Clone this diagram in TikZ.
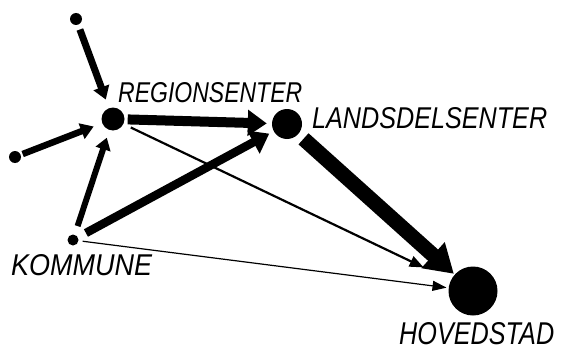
\documentclass[tikz,border=0pt]{standalone}
\usepackage{fontspec}
\setmainfont{Liberation Sans}
\usetikzlibrary{arrows.meta}
\newcommand{\lab}[3]{\resizebox{#1pt}{#2pt}{\itshape #3}}
\begin{document}
\begin{tikzpicture}[x=1pt,y=-1pt,
  dot/.style={circle,fill=black,inner sep=0pt,draw=none},
  lbl/.style={inner sep=0pt,anchor=base west},
  flow/.style={draw=black}]
\useasboundingbox (0,0) rectangle (561,350);
% places
\node[dot,minimum size=12pt] (top) at (76,19) {};
\node[dot,minimum size=12pt] (left) at (15,157) {};
\node[dot,minimum size=11pt] (kom) at (73,240) {};
\node[dot,minimum size=23pt] (reg) at (113,119) {};
\node[dot,minimum size=30pt] (lands) at (287,124) {};
\node[dot,minimum size=49pt] (hov) at (473,291) {};
% labels
\node[lbl] (lreg) at (118,102) {\lab{184}{20}{REGIONSENTER}};
\node[lbl] (llands) at (312,128) {\lab{235}{21}{LANDSDELSENTER}};
\node[lbl] (lkom) at (11,275) {\lab{141}{21}{KOMMUNE}};
\node[lbl] (lhov) at (399,344) {\lab{155}{22}{HOVEDSTAD}};
% flows
\draw[flow,line width=7pt,-{Triangle[length=13pt,width=16pt]},shorten <=5pt,shorten >=9pt] (top) -- (reg);
\draw[flow,line width=6.5pt,-{Triangle[length=13pt,width=16pt]},shorten <=2pt,shorten >=9pt] (left) -- (reg);
\draw[flow,line width=6pt,-{Triangle[length=12pt,width=15pt]},shorten <=9pt,shorten >=8pt] (kom) -- (reg);
\draw[flow,line width=10pt,-{Triangle[length=19pt,width=25pt]},shorten <=3pt,shorten >=5pt] (reg) -- (lands);
\draw[flow,line width=8.5pt,-{Triangle[length=18pt,width=25pt]},shorten <=9pt,shorten >=5pt] (kom) -- (lands);
\draw[flow,line width=2.2pt,-{Triangle[length=14pt,width=11pt]},shorten <=8pt,shorten >=30pt] (reg) -- (hov);
\draw[flow,line width=15pt,-{Triangle[length=28pt,width=33pt]},shorten <=7pt,shorten >=1pt] (lands) -- (hov);
\draw[flow,line width=1.2pt,-{Triangle[length=14pt,width=10pt]},shorten <=4pt,shorten >=2pt] (kom) -- (hov);
\end{tikzpicture}
\end{document}
